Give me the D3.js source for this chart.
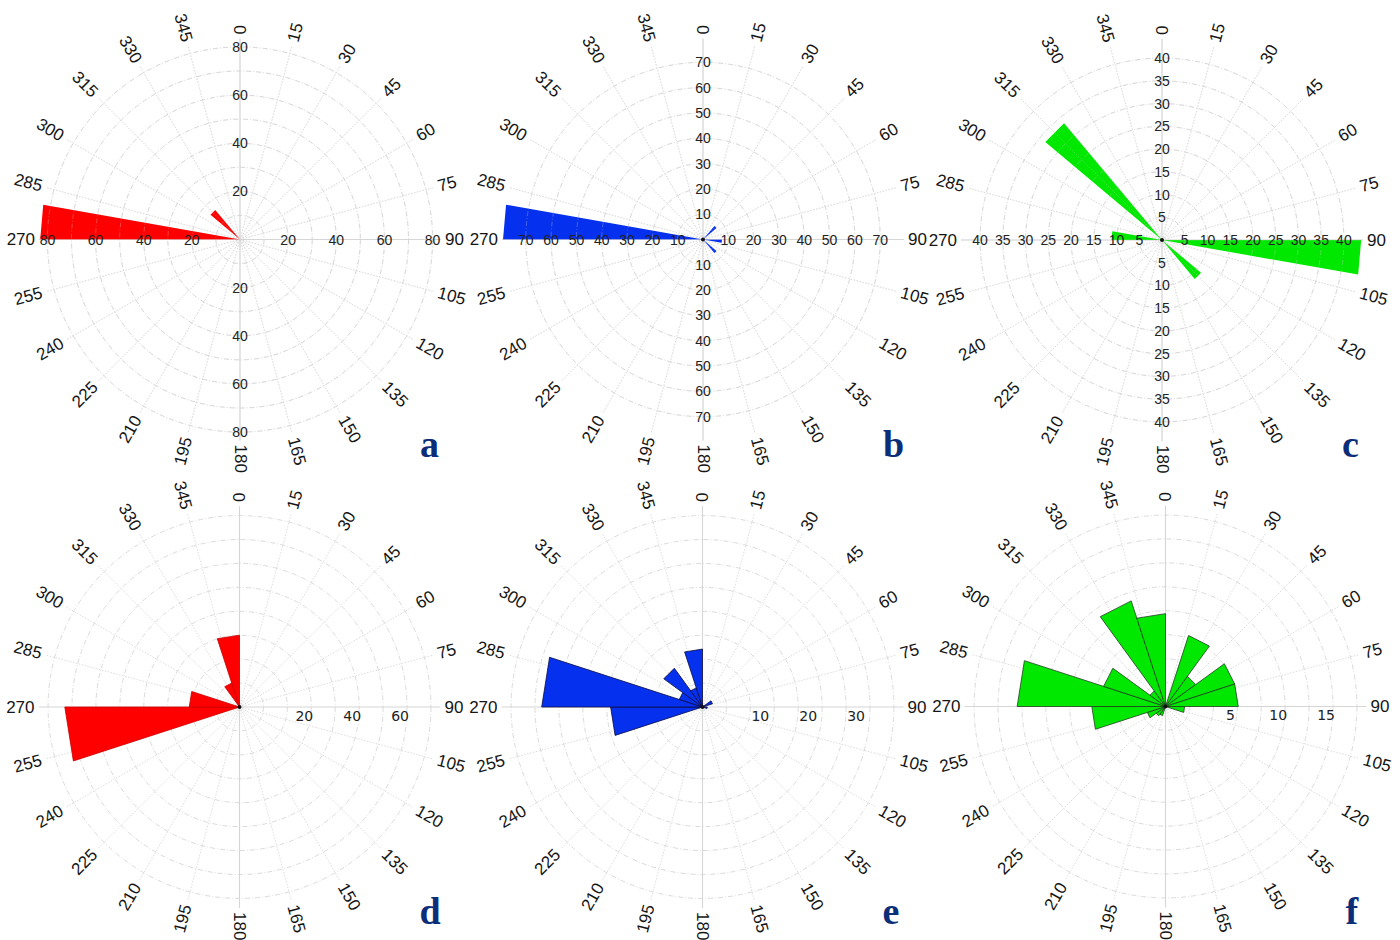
<!DOCTYPE html>
<html>
<head>
<meta charset="utf-8">
<script src="https://cdn.jsdelivr.net/npm/d3@7"></script>
<style>
  body { margin: 0; background: #ffffff; }
  svg { display: block; }
</style>
</head>
<body>
<svg id="chart" width="1400" height="940"></svg>
<script>
// Six rose diagrams (a–f) of orientation frequencies.
// Angles are degrees clockwise from north; each value is the count of one sector.

// ---- data ----
const panelLetters = ["a", "b", "c", "d", "e", "f"];

// a–c use 10° sectors, d–f use 18° sectors
const sectorWidthTop = 10;
const sectorWidthBottom = 18;

const sectorsA = [270, 310];
const countsA  = [83, 16];

const sectorsB = [40, 90, 130, 270];
const countsB  = [7, 7.5, 7, 79];

const sectorsC = [90, 130, 270, 310];
const countsC  = [43.8, 11.2, 11.1, 33.5];

const sectorsD = [252, 270, 324, 342];
const countsD  = [73, 21, 10.5, 30];

const sectorsE = [54, 90, 252, 270, 288, 306, 324, 342];
const countsE  = [2.2, 1, 19.2, 33.6, 5.1, 10, 4.2, 12.1];

const sectorsF = [18, 36, 54, 72, 90, 198, 216, 234, 252, 270, 288, 306, 324, 342];
const countsF  = [7.8, 3.9, 7.6, 7.6, 2, 1, 1.2, 2, 7.7, 15.5, 6.8, 2, 11.6, 9.7];

// outer limit of the radial axis for each panel
const radialMax = [83.5, 79.4, 44.2, 84, 42, 21];

// grid circles and labelled radial ticks
const ringsA = [10, 20, 30, 40, 50, 60, 70, 80];
const tickLabelsA = [20, 40, 60, 80];
const ringsB = [10, 20, 30, 40, 50, 60, 70];
const tickLabelsB = [10, 20, 30, 40, 50, 60, 70];
const ringsC = [5, 10, 15, 20, 25, 30, 35, 40];
const tickLabelsC = [5, 10, 15, 20, 25, 30, 35, 40];
const ringsD = [10, 20, 30, 40, 50, 60, 70, 80];
const tickLabelsD = [20, 40, 60];
const ringsE = [5, 10, 15, 20, 25, 30, 35, 40];
const tickLabelsE = [10, 20, 30];
const ringsF = [2.5, 5, 7.5, 10, 12.5, 15, 17.5, 20];
const tickLabelsF = [5, 10, 15];

// angular tick labels
const angleTicks = [0, 15, 30, 45, 60, 75, 90, 105, 120, 135, 150, 165,
                    180, 195, 210, 225, 240, 255, 270, 285, 300, 315, 330, 345];

// ---- layout ----
const centers = [[240, 239.5], [703, 239.5], [1162, 240],
                 [239.5, 707], [702.5, 707], [1165.5, 706.5]];
const R = 201;        // length of the spokes
const labelR = 205;   // where the angle labels start

const RED = "#ff0000", BLUE = "#0530ee", GREEN = "#00e800";

const panels = [
  { sectors: sectorsA, counts: countsA, width: sectorWidthTop, fill: RED,   edge: "none",    rings: ringsA, ticks: tickLabelsA, style: "cross", dot: false },
  { sectors: sectorsB, counts: countsB, width: sectorWidthTop, fill: BLUE,  edge: "none",    rings: ringsB, ticks: tickLabelsB, style: "cross", dot: true },
  { sectors: sectorsC, counts: countsC, width: sectorWidthTop, fill: GREEN, edge: "none",    rings: ringsC, ticks: tickLabelsC, style: "cross", dot: true },
  { sectors: sectorsD, counts: countsD, width: sectorWidthBottom, fill: RED,   edge: "#c80000", rings: ringsD, ticks: tickLabelsD, style: "east", labelShift: 17, dot: true },
  { sectors: sectorsE, counts: countsE, width: sectorWidthBottom, fill: BLUE,  edge: "#0a0a40", rings: ringsE, ticks: tickLabelsE, style: "east", labelShift: 10, dot: true },
  { sectors: sectorsF, counts: countsF, width: sectorWidthBottom, fill: GREEN, edge: "#1f3f1f", rings: ringsF, ticks: tickLabelsF, style: "east", labelShift: 17, dot: true }
];

const svg = d3.select("#chart");
const toRad = d3.scaleLinear().domain([0, 360]).range([0, 2 * Math.PI]);

function drawGrid(g, r, rings, opacity) {
  const grid = g.append("g").attr("opacity", opacity);
  grid.selectAll("circle.ring").data(rings).join("circle")
    .attr("class", "ring")
    .attr("r", d => r(d))
    .attr("fill", "none")
    .attr("stroke", "#d6d6d6")
    .attr("stroke-width", 0.9)
    .attr("stroke-dasharray", "5,2,1,2");
  grid.selectAll("line.spoke").data(angleTicks).join("line")
    .attr("class", "spoke")
    .attr("x1", 0).attr("y1", 0)
    .attr("x2", d => R * Math.sin(toRad(d)))
    .attr("y2", d => -R * Math.cos(toRad(d)))
    .attr("stroke", d => d % 90 === 0 ? "#d6d6d6" : "#d8d8d8")
    .attr("stroke-width", d => d % 90 === 0 ? 1.1 : 0.9)
    .attr("stroke-dasharray", d => d % 90 === 0 ? null : "1.5,1.5");
}

panels.forEach((p, i) => {
  const [cx, cy] = centers[i];
  const g = svg.append("g").attr("transform", `translate(${cx},${cy})`);
  const r = d3.scaleLinear().domain([0, radialMax[i]]).range([0, R]);

  drawGrid(g, r, p.rings, 1);

  // sectors drawn as triangles from the centre
  const wedge = d3.lineRadial()
    .angle(d => toRad(d[0]))
    .radius(d => r(d[1]))
    .curve(d3.curveLinearClosed);
  const data = p.sectors.map((s, k) => ({ start: s, value: p.counts[k] }));
  g.selectAll("path.sector").data(data).join("path")
    .attr("class", "sector")
    .attr("d", d => wedge([[d.start, 0], [d.start, d.value], [d.start + p.width, d.value]]))
    .attr("fill", p.fill)
    .attr("stroke", p.edge)
    .attr("stroke-width", p.edge === "none" ? 0 : 0.8)
    .attr("stroke-linejoin", "miter");

  if (p.style === "cross") {
    // faint grid visible over the filled sectors
    drawGrid(g, r, p.rings, 0.35);
  }

  if (p.dot) {
    g.append("circle").attr("r", 2).attr("fill", "#111");
  }

  // radial tick labels
  if (p.style === "cross") {
    const dirs = [[0, -1], [1, 0], [0, 1], [-1, 0]];
    dirs.forEach(([ux, uy]) => {
      g.selectAll(null).data(p.ticks).join("text")
        .attr("x", d => ux * r(d))
        .attr("y", d => uy * r(d))
        .attr("text-anchor", "middle")
        .attr("dominant-baseline", "central")
        .attr("font-family", "Liberation Sans, Arial, sans-serif")
        .attr("font-size", 14)
        .attr("fill", "#222")
        .text(d => d);
    });
  } else {
    g.selectAll(null).data(p.ticks).join("text")
      .attr("x", d => r(d) + p.labelShift)
      .attr("y", 8.5)
      .attr("text-anchor", "middle")
      .attr("dominant-baseline", "central")
      .attr("font-family", "DejaVu Sans, Verdana, sans-serif")
      .attr("font-size", 14)
      .attr("fill", "#222")
      .text(d => d);
  }

  // angle labels, laid along the radius
  g.selectAll("text.angle").data(angleTicks).join("text")
    .attr("class", "angle")
    .attr("transform", d => {
      const x = labelR * Math.sin(toRad(d));
      const y = -labelR * Math.cos(toRad(d));
      const rot = d <= 180 ? d - 90 : d - 270;
      return `translate(${x},${y}) rotate(${rot})`;
    })
    .attr("text-anchor", d => d <= 180 ? "start" : "end")
    .attr("dominant-baseline", "central")
    .attr("font-family", "Liberation Sans, Arial, sans-serif")
    .attr("font-size", 17)
    .attr("fill", "#151515")
    .text(d => d);

  // panel letter
  g.append("text")
    .attr("x", 180)
    .attr("y", 217)
    .attr("font-family", "Liberation Serif, Times New Roman, serif")
    .attr("font-weight", "bold")
    .attr("font-size", 38)
    .attr("fill", "#0c2d78")
    .text(panelLetters[i]);
});
</script>
</body>
</html>
